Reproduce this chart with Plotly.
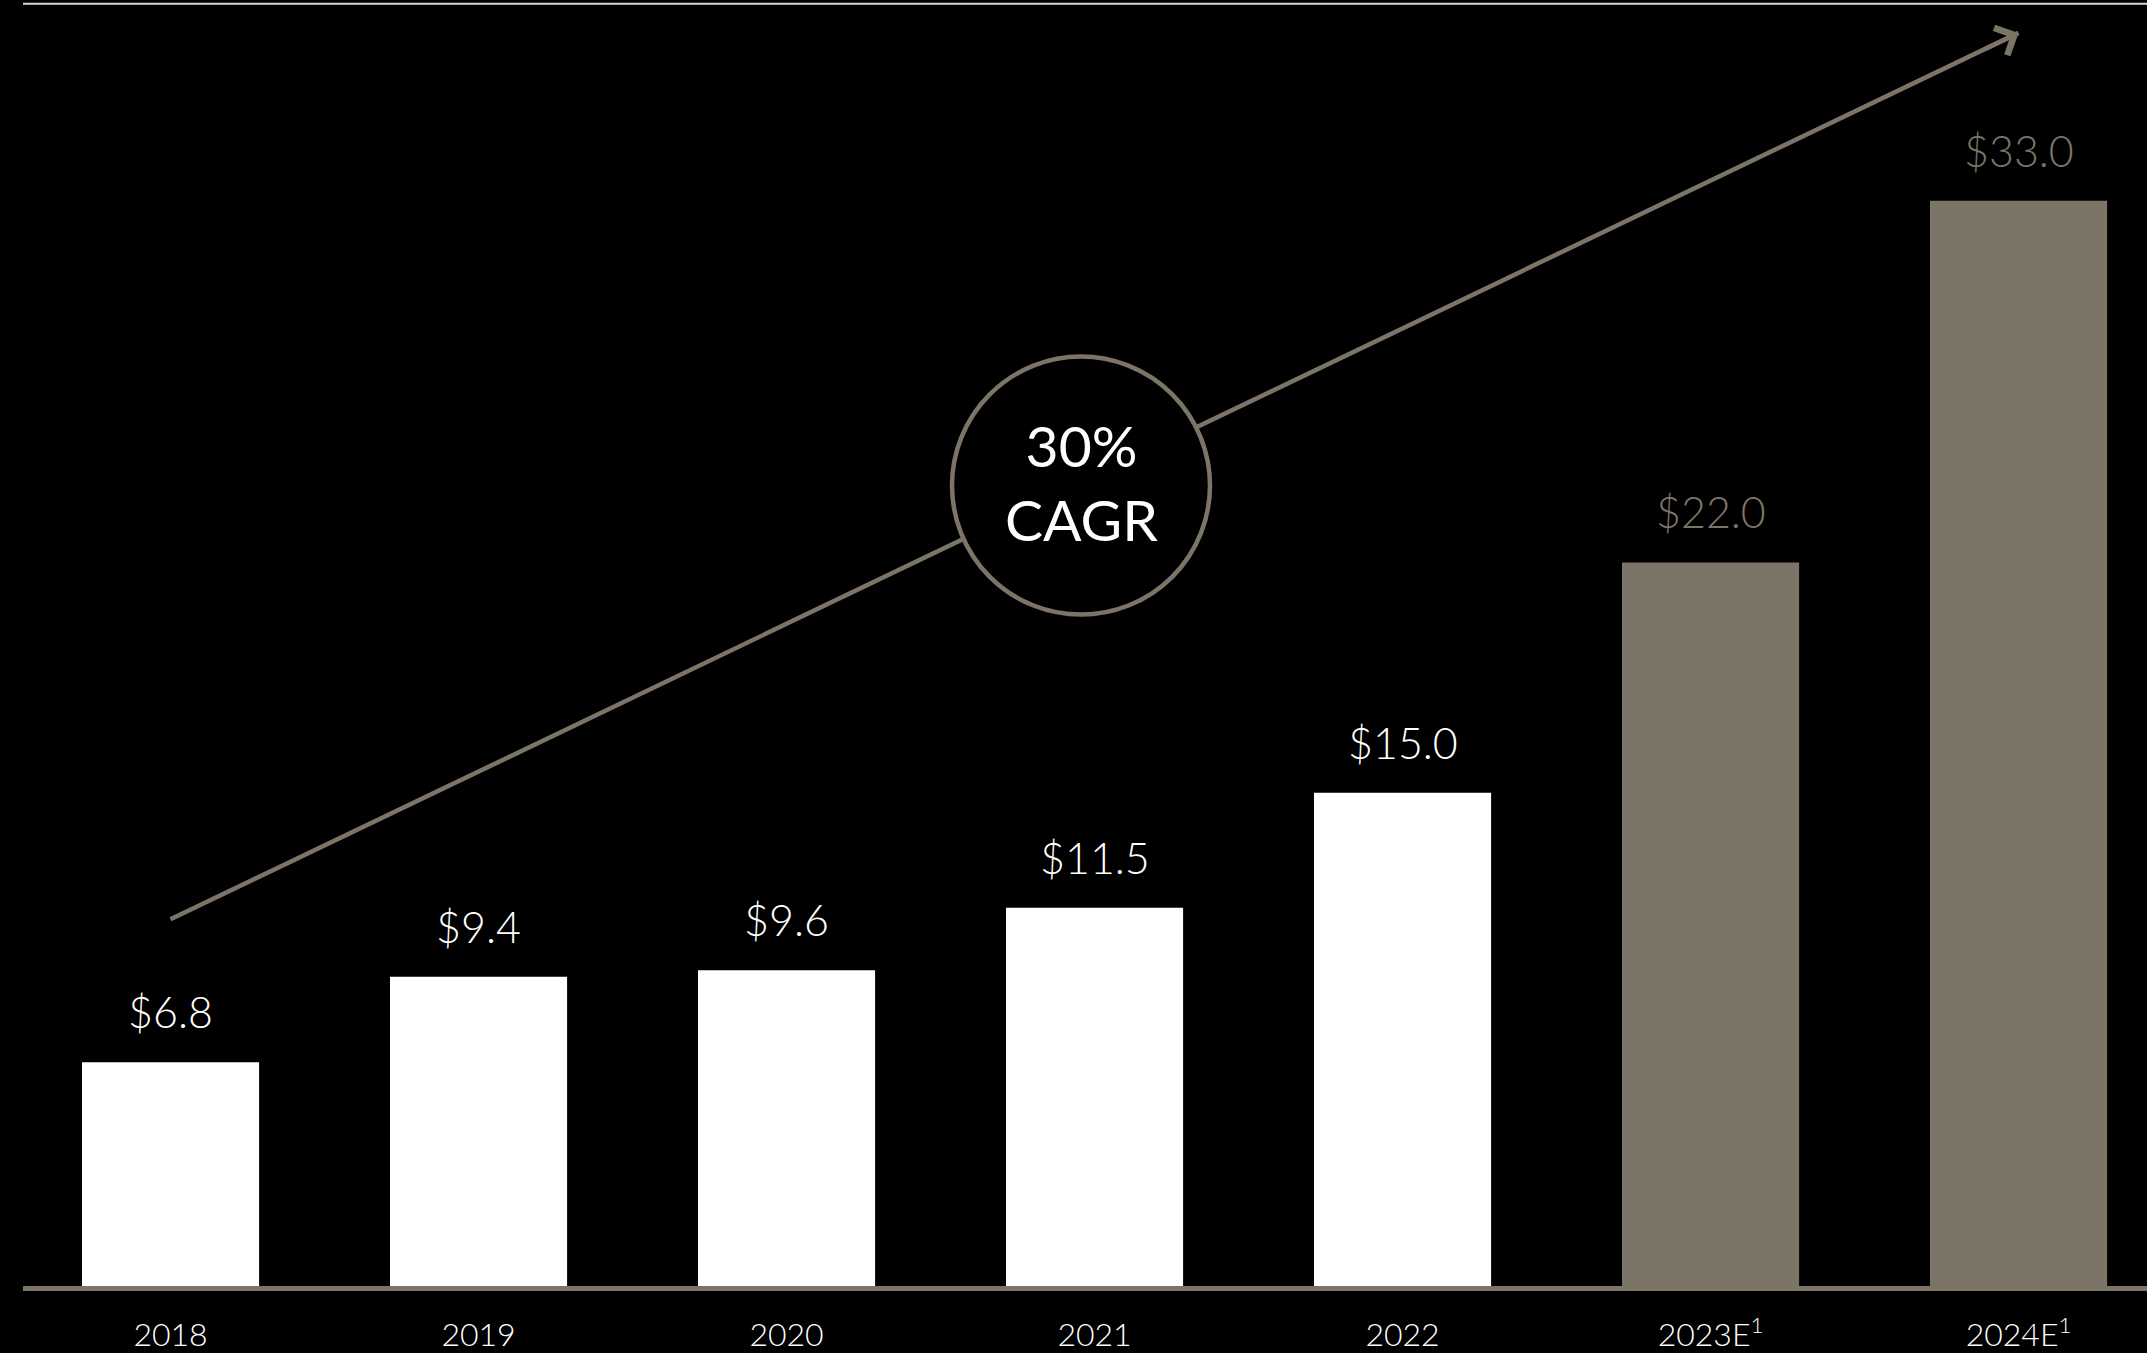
import plotly.graph_objects as go

# Revenue by year ($), actuals followed by estimates
years = ["2018", "2019", "2020", "2021", "2022", "2023E", "2024E"]
tick_labels = ["2018", "2019", "2020", "2021", "2022",
               "2023E<sup>1</sup>", "2024E<sup>1</sup>"]
revenue = [6.8, 9.4, 9.6, 11.5, 15.0, 22.0, 33.0]
is_estimate = [False, False, False, False, False, True, True]
value_labels = [f"${v:.1f}" for v in revenue]

# Trend arrow (start / tip, in axis units) and its badge text
arrow_x = [0, 6]
arrow_y = [11.15, 38.1]
cagr_text = "30%<br>CAGR"

FONT = "Lato, 'Open Sans', sans-serif"
TAUPE = "#7d7468"
WHITE = "#ffffff"

x = list(range(len(years)))
bar_colors = [TAUPE if e else WHITE for e in is_estimate]

fig = go.Figure()

fig.add_trace(go.Bar(
    x=x, y=revenue, width=0.575,
    marker=dict(color=bar_colors, line_width=0),
    hoverinfo="skip",
))

# Growth trend line
fig.add_trace(go.Scatter(
    x=arrow_x, y=arrow_y, mode="lines",
    line=dict(color=TAUPE, width=4.5),
    hoverinfo="skip",
))

# Arrowhead at the tip of the trend line
fig.add_annotation(
    x=arrow_x[1], y=arrow_y[1], xref="x", yref="y",
    ax=-36, ay=17.4, axref="pixel", ayref="pixel",
    showarrow=True, arrowhead=4, arrowsize=1.3, arrowwidth=4.5,
    arrowcolor=TAUPE, text="",
)

# Value labels above each bar
for xi, v, lab, est in zip(x, revenue, value_labels, is_estimate):
    fig.add_annotation(
        x=xi, y=v, xref="x", yref="y", text=lab, showarrow=False,
        yanchor="bottom", yshift=23,
        font=dict(family=FONT, size=43, color=TAUPE if est else WHITE, weight=300),
    )

# CAGR badge sitting on the trend line
badge_x = 2.956
badge_y = arrow_y[0] + (arrow_y[1] - arrow_y[0]) * (badge_x - arrow_x[0]) / (arrow_x[1] - arrow_x[0])
fig.add_shape(
    type="circle", xref="x", yref="y",
    xsizemode="pixel", ysizemode="pixel",
    xanchor=badge_x, yanchor=badge_y,
    x0=-129, x1=129, y0=-132, y1=126,
    fillcolor="black", line=dict(color=TAUPE, width=4.5),
    layer="above",
)
fig.add_annotation(
    x=badge_x, y=badge_y, xref="x", yref="y", text=cagr_text,
    showarrow=False, yshift=1,
    font=dict(family=FONT, size=57, color=WHITE, weight=400),
)

# Thin rule along the top edge
fig.add_shape(
    type="line", xref="paper", yref="paper",
    x0=0, x1=1, y0=0.997, y1=0.997,
    line=dict(color="#d6d6d6", width=2),
)

fig.update_layout(
    width=2147, height=1353,
    margin=dict(l=23, r=0, t=0, b=67),
    paper_bgcolor="black", plot_bgcolor="black",
    showlegend=False,
)
fig.update_xaxes(
    range=[-0.479, 6.417],
    tickvals=x, ticktext=tick_labels,
    showgrid=False, zeroline=False,
    showline=True, linecolor=TAUPE, linewidth=5,
    ticks="", ticklabelstandoff=17,
    tickfont=dict(family=FONT, size=32, color=WHITE, weight=300),
)
fig.update_yaxes(range=[0, 39.1], visible=False)

fig.write_html("out.html", config={"displayModeBar": False})
